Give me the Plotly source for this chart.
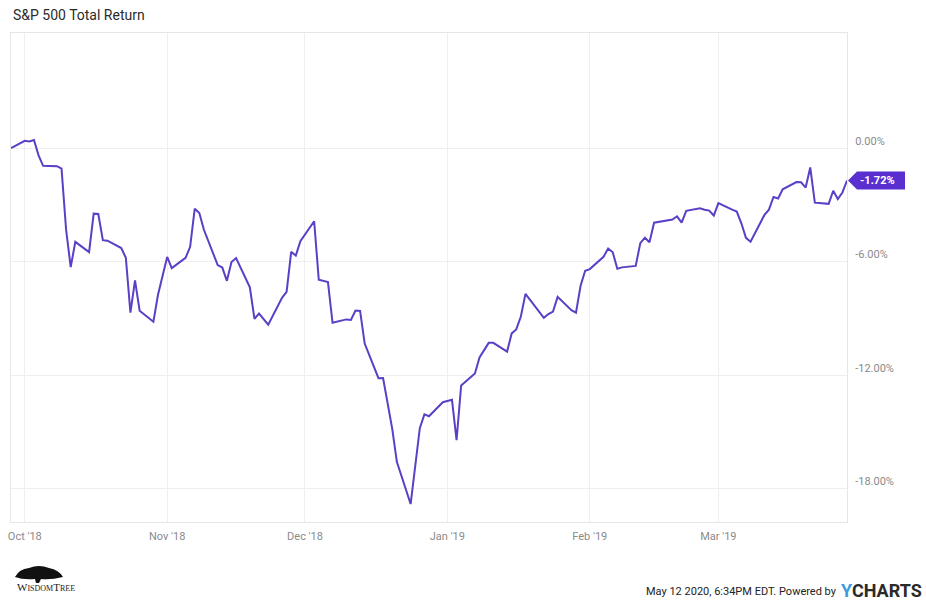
import plotly.graph_objects as go

dates = [
    "2018-09-28", "2018-10-01", "2018-10-02", "2018-10-03", "2018-10-04", "2018-10-05",
    "2018-10-08", "2018-10-09", "2018-10-10", "2018-10-11", "2018-10-12", "2018-10-15",
    "2018-10-16", "2018-10-17", "2018-10-18", "2018-10-19", "2018-10-22", "2018-10-23",
    "2018-10-24", "2018-10-25", "2018-10-26", "2018-10-29", "2018-10-30", "2018-10-31",
    "2018-11-01", "2018-11-02", "2018-11-05", "2018-11-06", "2018-11-07", "2018-11-08",
    "2018-11-09", "2018-11-12", "2018-11-13", "2018-11-14", "2018-11-15", "2018-11-16",
    "2018-11-19", "2018-11-20", "2018-11-21", "2018-11-23", "2018-11-26", "2018-11-27",
    "2018-11-28", "2018-11-29", "2018-11-30", "2018-12-03", "2018-12-04", "2018-12-06",
    "2018-12-07", "2018-12-10", "2018-12-11", "2018-12-12", "2018-12-13", "2018-12-14",
    "2018-12-17", "2018-12-18", "2018-12-19", "2018-12-20", "2018-12-21", "2018-12-24",
    "2018-12-26", "2018-12-27", "2018-12-28", "2018-12-31", "2019-01-02", "2019-01-03",
    "2019-01-04", "2019-01-07", "2019-01-08", "2019-01-09", "2019-01-10", "2019-01-11",
    "2019-01-14", "2019-01-15", "2019-01-16", "2019-01-17", "2019-01-18", "2019-01-22",
    "2019-01-23", "2019-01-24", "2019-01-25", "2019-01-28", "2019-01-29", "2019-01-30",
    "2019-01-31", "2019-02-01", "2019-02-04", "2019-02-05", "2019-02-06", "2019-02-07",
    "2019-02-08", "2019-02-11", "2019-02-12", "2019-02-13", "2019-02-14", "2019-02-15",
    "2019-02-19", "2019-02-20", "2019-02-21", "2019-02-22", "2019-02-25", "2019-02-26",
    "2019-02-27", "2019-02-28", "2019-03-01", "2019-03-04", "2019-03-05", "2019-03-06",
    "2019-03-07", "2019-03-08", "2019-03-11", "2019-03-12", "2019-03-13", "2019-03-14",
    "2019-03-15", "2019-03-18", "2019-03-19", "2019-03-20", "2019-03-21", "2019-03-22",
    "2019-03-25", "2019-03-26", "2019-03-27", "2019-03-28", "2019-03-29",
]

total_return = [
    0.00, 0.38, 0.35, 0.42, -0.39, -0.94,
    -0.96, -1.09, -4.33, -6.30, -4.96, -5.50,
    -3.47, -3.49, -4.87, -4.90, -5.29, -5.80,
    -8.70, -7.00, -8.60, -9.18, -7.76, -6.75,
    -5.76, -6.35, -5.81, -5.22, -3.21, -3.44,
    -4.32, -6.19, -6.32, -7.02, -6.03, -5.82,
    -7.36, -9.03, -8.75, -9.34, -7.92, -7.61,
    -5.49, -5.69, -4.92, -3.87, -6.96, -7.09,
    -9.24, -9.06, -9.09, -8.59, -8.61, -10.34,
    -12.17, -12.16, -13.50, -14.85, -16.59, -18.82,
    -14.81, -14.08, -14.18, -13.44, -13.31, -15.44,
    -12.55, -11.92, -11.07, -10.70, -10.30, -10.30,
    -10.76, -9.80, -9.59, -8.91, -7.71, -8.98,
    -8.78, -8.65, -7.87, -8.57, -8.70, -7.28,
    -6.49, -6.40, -5.75, -5.31, -5.51, -6.38,
    -6.31, -6.23, -5.03, -4.74, -4.98, -3.95,
    -3.78, -3.61, -3.94, -3.32, -3.19, -3.26,
    -3.31, -3.57, -2.91, -3.26, -3.36, -3.98,
    -4.75, -4.95, -3.55, -3.26, -2.59, -2.67,
    -2.18, -1.80, -1.81, -2.09, -1.03, -2.89,
    -2.95, -2.26, -2.70, -2.35, -1.72,
]

y_range = [-19.77, 6.08]
y_tickvals = [0, -6, -12, -18]
y_ticktext = ["0.00%", "-6.00%", "-12.00%", "-18.00%"]
x_tickvals = ["2018-10-01", "2018-11-01", "2018-12-01", "2019-01-01", "2019-02-01", "2019-03-01"]
x_ticktext = ["Oct '18", "Nov '18", "Dec '18", "Jan '19", "Feb '19", "Mar '19"]

title_text = "S&P 500 Total Return"
end_label = "-1.72%"
footer_text = "May 12 2020, 6:34PM EDT. Powered by"

line_color = "#5b3fc6"
label_color = "#5b2fcf"
grid_color = "#efefef"

fig = go.Figure()
fig.add_trace(go.Scatter(
    x=dates, y=total_return, mode="lines",
    line=dict(color=line_color, width=2),
    hoverinfo="x+y", showlegend=False,
))

# end-value tag (anchored at the last point, which sits on the right edge of the plot)
last_y_paper = (total_return[-1] - y_range[0]) / (y_range[1] - y_range[0])
fig.add_shape(
    type="path", xref="paper", yref="paper", xsizemode="pixel", ysizemode="pixel",
    xanchor=1, yanchor=last_y_paper,
    path="M 1 0 L 10 9 L 58 9 L 58 -9 L 10 -9 Z",
    fillcolor=label_color, line=dict(width=0), layer="above",
)
fig.add_annotation(
    x=1, y=last_y_paper, xref="paper", yref="paper",
    text="<b>" + end_label + "</b>", showarrow=False, xanchor="left", yanchor="middle",
    xshift=11, font=dict(family="Roboto", size=11, color="white"),
)

# title
fig.add_annotation(
    x=0, y=1, xref="paper", yref="paper", xanchor="left", yanchor="middle",
    xshift=0, yshift=18, text=title_text, showarrow=False,
    font=dict(family="Roboto", size=14, color="#2b2b2b"),
)

# footer
fig.add_annotation(
    x=1, y=0, xref="paper", yref="paper", xanchor="right", yanchor="middle",
    xshift=-8, yshift=-69, text=footer_text, showarrow=False,
    font=dict(family="Roboto", size=11, color="#222222"),
)
fig.add_annotation(
    x=1, y=0, xref="paper", yref="paper", xanchor="left", yanchor="middle",
    xshift=-8, yshift=-68, showarrow=False,
    text="<b><span style='color:#3d9be0'>Y</span>CHARTS</b>",
    font=dict(family="Roboto", size=18, color="#2a2a2a"),
)

# WisdomTree logo (approximation)
fig.add_shape(
    type="path", xref="paper", yref="paper", xsizemode="pixel", ysizemode="pixel",
    xanchor=0, yanchor=0,
    path="M 4 -55 Q 8 -47 18 -46 Q 28 -42 38 -46 Q 48 -48 52 -55 Q 40 -58 30 -57 L 28 -61 L 25 -61 L 24 -57 Q 12 -58 4 -55 Z",
    fillcolor="#111111", line=dict(width=0),
)
fig.add_annotation(
    x=0, y=0, xref="paper", yref="paper", xanchor="left", yanchor="middle",
    xshift=4, yshift=-65, showarrow=False,
    text="W<span style='font-size:8px'>ISDOM</span>T<span style='font-size:8px'>REE</span>",
    font=dict(family="Liberation Serif", size=11, color="#222222"),
)

fig.update_layout(
    width=926, height=601,
    margin=dict(l=8, r=79, t=33, b=79),
    paper_bgcolor="white", plot_bgcolor="white",
    font=dict(family="Roboto", size=11, color="#8a8a8a"),
    xaxis=dict(
        range=[dates[0], dates[-1]],
        tickvals=x_tickvals, ticktext=x_ticktext,
        showgrid=True, gridcolor=grid_color, gridwidth=1,
        showline=True, linecolor="#e6e6e6", linewidth=1, mirror=True,
        zeroline=False, ticks="", ticklabelstandoff=4,
        tickfont=dict(size=11, color="#8a8a8a"),
    ),
    yaxis=dict(
        range=y_range, side="right",
        tickvals=y_tickvals, ticktext=y_ticktext,
        showgrid=True, gridcolor=grid_color, gridwidth=1,
        showline=True, linecolor="#e6e6e6", linewidth=1, mirror=True,
        zeroline=False, ticks="", ticklabelshift=-7, ticklabelstandoff=5,
        tickfont=dict(size=11, color="#8a8a8a"),
    ),
)

fig.write_html(
    "out.html",
    config={"displayModeBar": False},
    post_script="document.body.style.margin='0';document.body.style.overflow='hidden';",
)
